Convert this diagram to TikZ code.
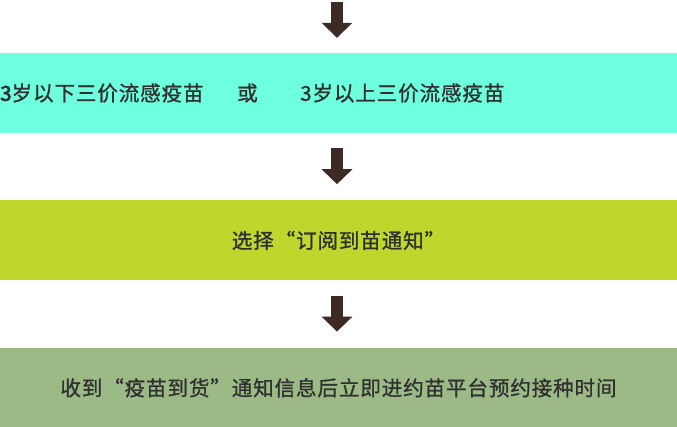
\documentclass[tikz,border=0pt]{standalone}
\usepackage{fontspec}
\usepackage{xcolor}
\usetikzlibrary{positioning, arrows.meta, calc}
\newfontfamily\cjk{Noto Sans CJK SC}[LetterSpace=4, FakeBold=1]
\newfontfamily\cjkheavy{Noto Sans CJK SC}[FakeBold=3]
\definecolor{bandmint}{HTML}{6DFFDE}
\definecolor{bandlime}{HTML}{BFD62D}
\definecolor{bandsage}{HTML}{9BBA86}
\definecolor{arrowbrown}{HTML}{3D2A25}
\definecolor{textgray}{HTML}{303030}

\begin{document}
\begin{tikzpicture}[x=1pt, y=-1pt,
  band/.style={minimum width=677pt, minimum height=80pt, inner sep=0pt, draw=none},
  label/.style={inner sep=0pt, text=textgray, font=\cjk\fontsize{20.6}{24}\selectfont},
  flow/.style={arrowbrown, line width=12pt, -{Triangle[width=30pt, length=15pt]}}]
  \useasboundingbox (0,0) rectangle (677,427);
  % three bands
  \node[band, fill=bandmint] (band1) at (338.5,93) {};
  \node[band, fill=bandlime, below=67pt of band1] (band2) {};
  \node[band, fill=bandsage, below=67pt of band2] (band3) {};
  % texts
  \node[label, anchor=west] (under3) at (0,93) {{\cjkheavy 3}岁以下三价流感疫苗};
  \node[label, anchor=west] (orword) at (237,93) {或};
  \node[label, anchor=west] (over3) at (300,93) {3岁以上三价流感疫苗};
  \node[label] (subscribe) at (band2) {选择“订阅到苗通知”};
  \node[label] (booking) at (band3) {收到“疫苗到货”通知信息后立即进约苗平台预约接种时间};
  % arrows
  \coordinate (start) at (337,2);
  \draw[flow, shorten >=15pt] (start) -- (start |- band1.north);
  \draw[flow, shorten <=15pt, shorten >=16pt] (start |- band1.south) -- (start |- band2.north);
  \draw[flow, shorten <=15pt, shorten >=16pt] (start |- band2.south) -- (start |- band3.north);
\end{tikzpicture}
\end{document}
